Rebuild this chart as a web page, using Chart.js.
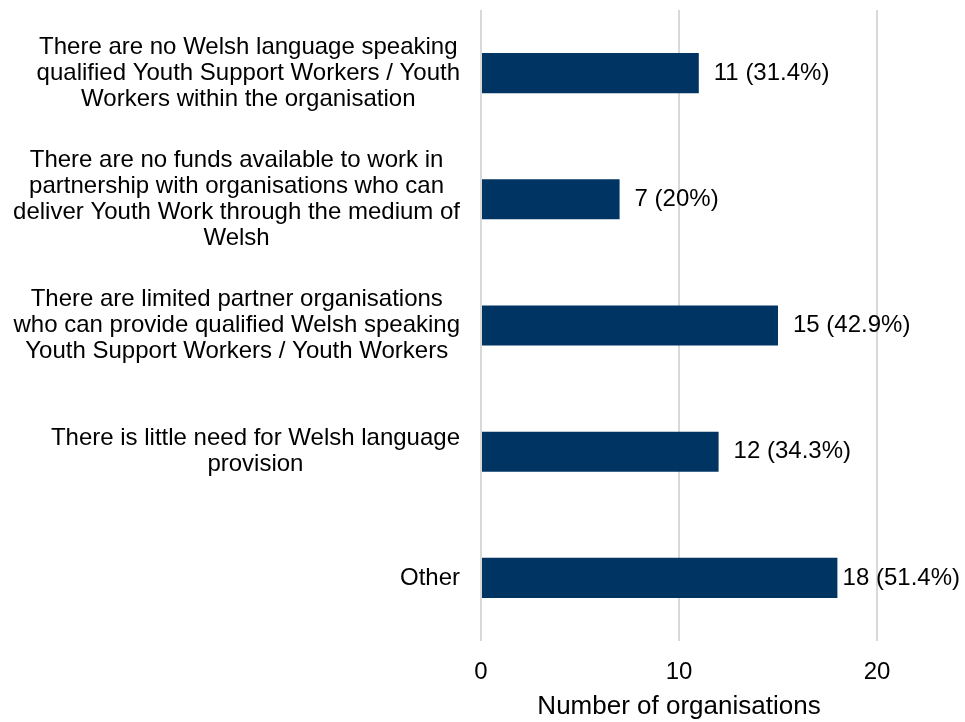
<!DOCTYPE html>
<html>
<head>
<meta charset="utf-8">
<title>Barriers to Welsh language provision</title>
<script src="https://cdn.jsdelivr.net/npm/chart.js@4/dist/chart.umd.min.js"></script>
<style>
  html, body { margin: 0; padding: 0; background: #ffffff; }
  #wrap { width: 965px; height: 722px; }
</style>
</head>
<body>
<div id="wrap"><canvas id="chart" width="965" height="722"></canvas></div>
<script>
// Category labels, pre-wrapped into lines
const categories = [
  ["There are no Welsh language speaking", "qualified Youth Support Workers / Youth", "Workers within the organisation"],
  ["There are no funds available to work in", "partnership with organisations who can", "deliver Youth Work through the medium of", "Welsh"],
  ["There are limited partner organisations", "who can provide qualified Welsh speaking", "Youth Support Workers / Youth Workers"],
  ["There is little need for Welsh language", "provision"],
  ["Other"]
];
// Number of organisations giving each reason
const counts = [11, 7, 15, 12, 18];
// Share of responding organisations (%)
const shares = ["31.4", "20", "42.9", "34.3", "51.4"];
// Values shown on the horizontal axis
const xTicks = [0, 10, 20];

const FONT = '"Liberation Sans", Arial, Helvetica, sans-serif';
const TEXT = '#000000';

// Draws the wrapped category names to the left of the plot and the value labels after each bar
const labelPlugin = {
  id: 'barLabels',
  afterDraw(chart) {
    const ctx = chart.ctx;
    const y = chart.scales.y;
    const x = chart.scales.x;
    const area = chart.chartArea;
    ctx.save();
    ctx.fillStyle = TEXT;
    ctx.font = '24px ' + FONT;
    ctx.textBaseline = 'middle';

    // category names: block right-aligned to the axis, lines centred within the block
    const blockRight = area.left - 21;
    const lineH = 26;
    categories.forEach((lines, i) => {
      const cy = y.getPixelForValue(i);
      const widest = Math.max(...lines.map(l => ctx.measureText(l).width));
      const cx = blockRight - widest / 2;
      ctx.textAlign = 'center';
      lines.forEach((line, j) => {
        ctx.fillText(line, cx, cy + (j - (lines.length - 1) / 2) * lineH);
      });
    });

    // value labels: outside the bar end, kept inside the canvas
    ctx.textAlign = 'left';
    counts.forEach((v, i) => {
      const text = v + ' (' + shares[i] + '%)';
      const w = ctx.measureText(text).width;
      let tx = x.getPixelForValue(v) + 15;
      tx = Math.min(tx, chart.width - 5 - w);
      ctx.fillText(text, tx, y.getPixelForValue(i));
    });
    ctx.restore();
  }
};

new Chart(document.getElementById('chart'), {
  type: 'bar',
  data: {
    labels: categories.map(c => c.join(' ')),
    datasets: [{
      data: counts,
      backgroundColor: '#003462',
      borderWidth: 0,
      barPercentage: 0.318,
      categoryPercentage: 1
    }]
  },
  options: {
    indexAxis: 'y',
    responsive: false,
    animation: false,
    layout: { padding: { left: 481, right: 88, top: 10, bottom: 0 } },
    plugins: { legend: { display: false }, tooltip: { enabled: false } },
    scales: {
      x: {
        min: 0,
        max: 20,
        afterBuildTicks(scale) { scale.ticks = xTicks.map(v => ({ value: v })); },
        grid: { color: '#d9d9d9', lineWidth: 2, drawTicks: false },
        border: { display: false },
        ticks: { padding: 17, color: TEXT, font: { family: FONT, size: 24 } },
        title: {
          display: true,
          text: 'Number of organisations',
          color: TEXT,
          font: { family: FONT, size: 26 },
          padding: { top: -13, bottom: 0 }
        }
      },
      y: { display: false }
    }
  },
  plugins: [labelPlugin]
});
</script>
</body>
</html>
